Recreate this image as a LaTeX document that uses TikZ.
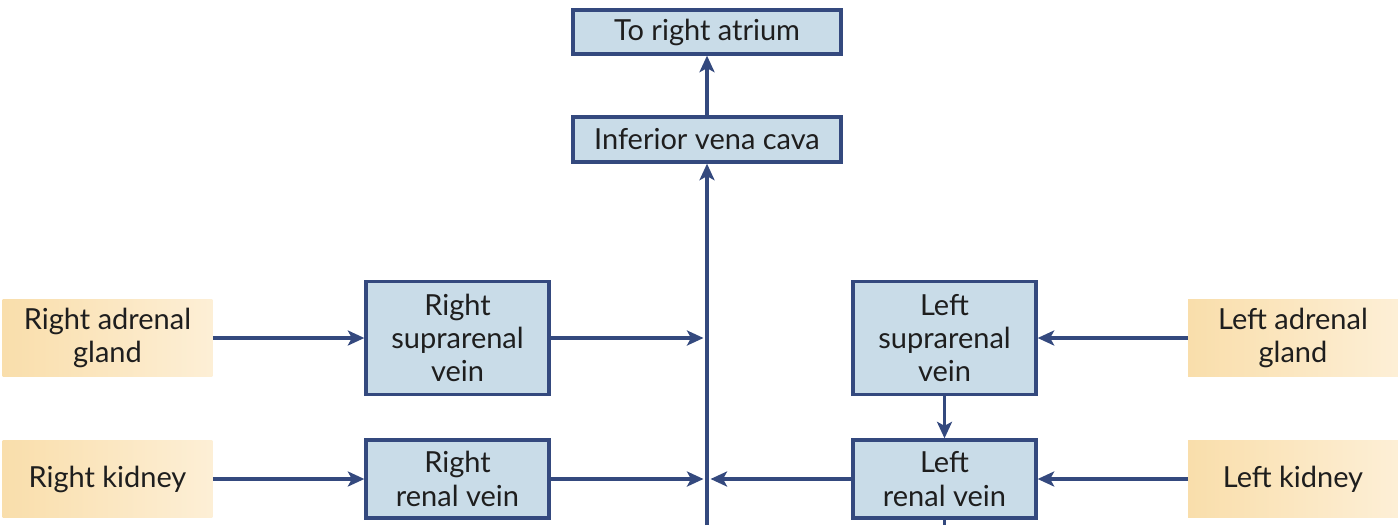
\documentclass[tikz,border=0pt]{standalone}
\usepackage{fontspec}
\setmainfont{Lato}
\usepackage{tikz}
\usetikzlibrary{positioning,arrows.meta}
\definecolor{vnblue}{HTML}{C9DCE8}
\definecolor{vnedge}{HTML}{34497E}
\definecolor{vnorgA}{HTML}{F9DEAB}
\definecolor{vnorgB}{HTML}{FDEFD6}
\definecolor{vntext}{HTML}{1E1E1E}
\tikzset{
  veinbox/.style={draw=vnedge,fill=vnblue,line width=1.9pt,text=vntext,
    align=center,inner sep=0pt,font=\fontsize{16.5}{19}\selectfont},
  organbox/.style={left color=vnorgA,right color=vnorgB,text=vntext,
    align=center,inner sep=0pt,minimum width=4.2cm,minimum height=1.55cm,
    font=\fontsize{16.5}{19}\selectfont},
  flow/.style={draw=vnedge,line width=1.9pt,-{Stealth[length=0.33cm,width=0.3cm,inset=0.08cm]}},
  plain/.style={draw=vnedge,line width=1.9pt}
}
\begin{document}
\begin{tikzpicture}[x=0.02cm,y=-0.02cm]
  \useasboundingbox (0,0) rectangle (1398,525);
  % ---------- trunk ----------
  \node[veinbox,minimum width=5.36cm,minimum height=0.88cm] (atrium) at (707,32) {To right atrium};
  \node[veinbox,minimum width=5.36cm,minimum height=0.9cm] (ivc) at (707,139.5) {Inferior vena cava};
  % ---------- right side ----------
  \node[organbox] (radrenal) at (107.5,338) {Right adrenal\\gland};
  \node[organbox] (rkidney) at (107.5,479) {Right kidney};
  \node[veinbox,minimum width=3.66cm,minimum height=2.26cm] (rsupra) at (457.5,338) {Right\\suprarenal\\vein};
  \node[veinbox,minimum width=3.66cm,minimum height=1.56cm] (rrenal) at (457.5,479) {Right\\renal vein};
  % ---------- left side ----------
  \node[organbox] (ladrenal) at (1293,338) {Left adrenal\\gland};
  \node[organbox] (lkidney) at (1293,479) {Left kidney};
  \node[veinbox,minimum width=3.66cm,minimum height=2.26cm] (lsupra) at (944.5,338) {Left\\suprarenal\\vein};
  \node[veinbox,minimum width=3.66cm,minimum height=1.56cm] (lrenal) at (944.5,479) {Left\\renal vein};
  % ---------- junctions ----------
  \coordinate (trunkbot) at (707,525);
  \coordinate (jsupra) at (707,338);
  \coordinate (jrenal) at (707,479);
  \coordinate (lrenalbot) at (944.5,525);
  % ---------- connectors ----------
  \draw[flow] (trunkbot) -- (ivc.south);
  \draw[flow] (ivc.north) -- (atrium.south);
  \draw[flow] (radrenal.east) -- (rsupra.west);
  \draw[flow] (rkidney.east) -- (rrenal.west);
  \draw[flow] (rsupra.east) -- ([xshift=-2]jsupra);
  \draw[flow] (rrenal.east) -- ([xshift=-2]jrenal);
  \draw[flow] (ladrenal.west) -- (lsupra.east);
  \draw[flow] (lkidney.west) -- (lrenal.east);
  \draw[flow] (lsupra.south) -- (lrenal.north);
  \draw[flow] (lrenal.west) -- ([xshift=2]jrenal);
  \draw[plain] (lrenal.south) -- (lrenalbot);
\end{tikzpicture}
\end{document}
